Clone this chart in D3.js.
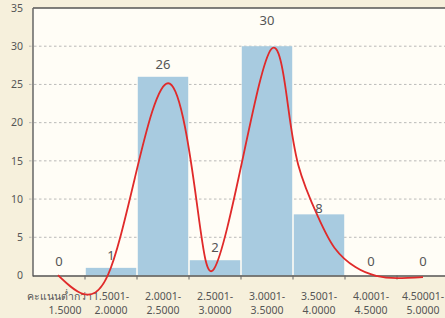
<!DOCTYPE html>
<html><head><meta charset="utf-8">
<script src="https://cdn.jsdelivr.net/npm/d3@7"></script>
<style>
html,body{margin:0;padding:0;background:#f6f0dc;}
svg{display:block;}
text{font-family:"Noto Sans","DejaVu Sans",sans-serif;}
</style></head>
<body>
<svg id="c" width="445" height="318"></svg>
<script>
// ---- data ----
const catLine1 = ["คะแนนต่ำกว่า","1.5001-","2.0001-","2.5001-","3.0001-","3.5001-","4.0001-","4.50001-"];
const catLine2 = ["1.5000","2.0000","2.5000","3.0000","3.5000","4.0000","4.5000","5.0000"];
const counts = [0, 1, 26, 2, 30, 8, 0, 0];
const yTicks = [0, 5, 10, 15, 20, 25, 30, 35];
// smoothed red curve: position in category units (0 = first category centre), value
const curvePos = [-0.02, 0.46, 0.94, 1.46, 2.13, 2.65, 2.98, 3.54, 4.08, 4.38, 4.6, 4.98, 5.3, 5.7, 6.1, 6.5, 7.0];
const curveVal = [0.05, -2.4, 0.05, 12.8, 25.1, 9.5, 0.85, 15.5, 29.6, 23.4, 14.5, 7.7, 3.6, 1.1, -0.05, -0.35, -0.2];

// ---- layout / style ----
const L = 33, R = 449, T = 8, B = 275.5;
const labelShift = [14, 12, 12, 13, 26, 6, 14, 14];

const svg = d3.select("#c");
const keys = d3.range(counts.length);
const x = d3.scaleBand().domain(keys).range([L, R]).paddingInner(0.03).paddingOuter(0.015);
const y = d3.scaleLinear().domain([0, 35]).range([B, T]);
const bw = x.bandwidth();
const xc = d3.scaleLinear().domain([0, 7]).range([x(0) + bw / 2, x(7) + bw / 2]);

// plot background
svg.append("rect").attr("x", L).attr("y", T).attr("width", R - L).attr("height", B - T).attr("fill", "#fffdf6");

// gridlines
svg.append("g").selectAll("line").data(yTicks.filter(d => d > 0 && d < 35)).join("line")
  .attr("x1", L - 4).attr("x2", R).attr("y1", d => y(d)).attr("y2", d => y(d))
  .attr("stroke", "#a8a8a8").attr("stroke-width", 0.8).attr("stroke-dasharray", "2.5,2.5");

// bars
svg.append("g").selectAll("rect").data(counts).join("rect")
  .attr("x", (d, i) => x(i)).attr("width", bw)
  .attr("y", d => y(d)).attr("height", d => B - y(d))
  .attr("fill", "#a8cbe0");

// axes lines
svg.append("line").attr("x1", L).attr("x2", 445).attr("y1", T).attr("y2", T).attr("stroke", "#555").attr("stroke-width", 1.5);
svg.append("line").attr("x1", L).attr("x2", L).attr("y1", T).attr("y2", B + 1).attr("stroke", "#666").attr("stroke-width", 1.5);
svg.append("line").attr("x1", L).attr("x2", 445).attr("y1", B + 0.5).attr("y2", B + 0.5).attr("stroke", "#555").attr("stroke-width", 1.5);
// x ticks at band boundaries
svg.append("g").selectAll("line").data(keys.slice(1)).join("line")
  .attr("x1", d => x(d) - x.step() * x.paddingInner() / 2).attr("x2", d => x(d) - x.step() * x.paddingInner() / 2)
  .attr("y1", B).attr("y2", B + 4).attr("stroke", "#666").attr("stroke-width", 1);

// y tick labels
svg.append("g").selectAll("text").data(yTicks).join("text")
  .attr("x", 23).attr("y", d => y(d)).attr("dy", "0.35em").attr("text-anchor", "end")
  .attr("font-size", 10.5).attr("fill", "#555").text(d => d);

// x labels
const xl = svg.append("g").selectAll("text").data(keys).join("text")
  .attr("text-anchor", "middle").attr("font-size", 10.5).attr("fill", "#555");
xl.append("tspan").attr("x", d => x(d) + bw / 2).attr("y", 300).text(d => catLine1[d]);
xl.append("tspan").attr("x", d => x(d) + bw / 2 + (d === 0 ? 6 : 0)).attr("y", 314).text(d => catLine2[d]);

// curve
const pts = curvePos.map((p, i) => [xc(p), y(curveVal[i])]);
svg.append("path").attr("d", d3.line().curve(d3.curveNatural)(pts))
  .attr("fill", "none").attr("stroke", "#e02a2a").attr("stroke-width", 1.8);

// value labels
svg.append("g").selectAll("text").data(counts).join("text")
  .attr("x", (d, i) => x(i) + bw / 2).attr("y", (d, i) => y(d) - labelShift[i]).attr("dy", "0.35em")
  .attr("text-anchor", "middle").attr("font-size", 13).attr("fill", "#555").text(d => d);
</script>
</body></html>
